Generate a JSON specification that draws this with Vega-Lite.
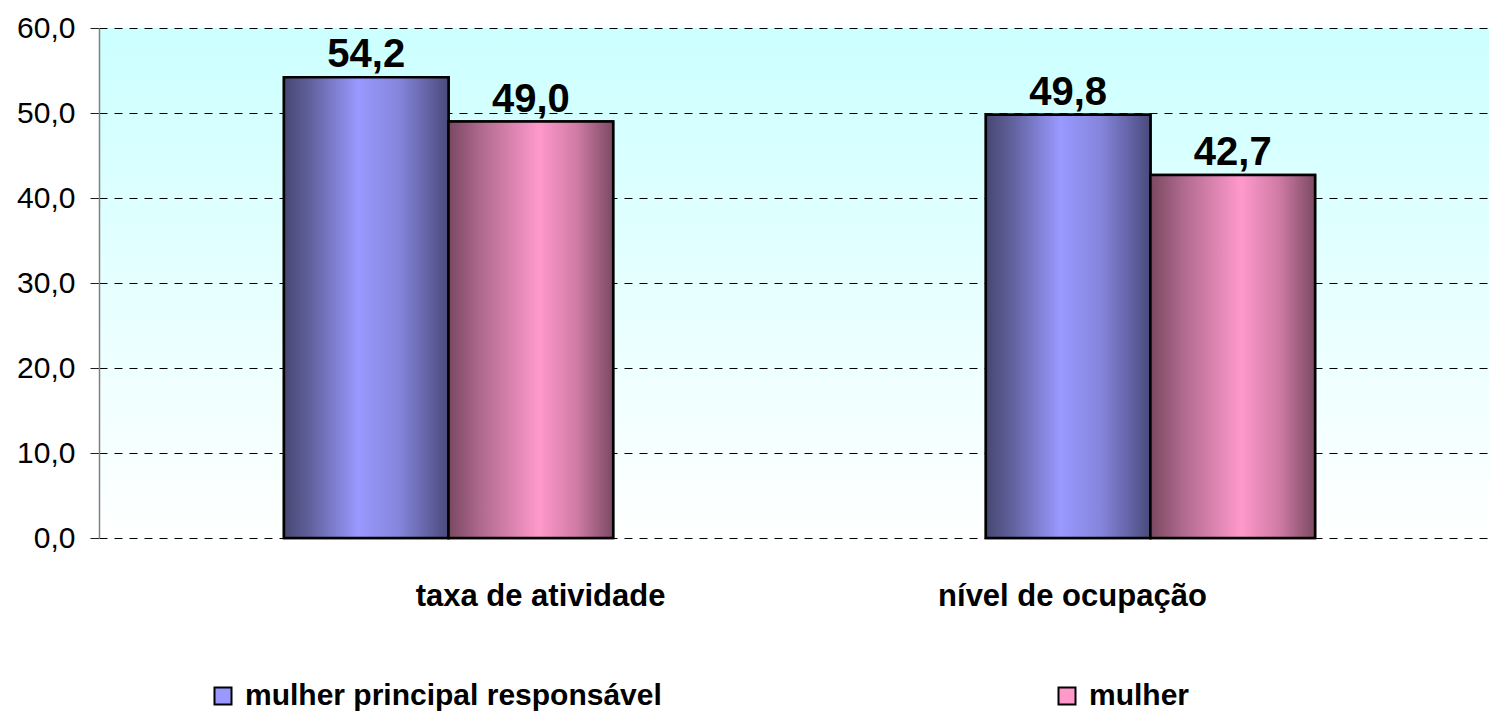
{
  "$schema": "https://vega.github.io/schema/vega-lite/v6.json",
  "width": 1390,
  "height": 510,
  "autosize": "none",
  "padding": {"left": 99, "top": 28, "right": 0, "bottom": 174},
  "background": "#ffffff",
  "config": {
    "locale": {"number": {"decimal": ",", "thousands": ".", "grouping": [3], "currency": ["R$", ""]}},
    "font": "Liberation Sans",
    "view": {"stroke": null}
  },
  "view": {
    "stroke": null,
    "fill": {"gradient": "linear", "x1": 0, "y1": 0, "x2": 0, "y2": 1, "stops": [{"offset": 0, "color": "#ccffff"}, {"offset": 1, "color": "#ffffff"}]}
  },
  "data": {
    "values": [
      {"cat": "taxa de atividade", "serie": "mulher principal responsável", "v": 54.2},
      {"cat": "taxa de atividade", "serie": "mulher", "v": 49.0},
      {"cat": "nível de ocupação", "serie": "mulher principal responsável", "v": 49.8},
      {"cat": "nível de ocupação", "serie": "mulher", "v": 42.7}
    ]
  },
  "encoding": {
    "x": {
      "field": "cat", "type": "nominal",
      "scale": {"domain": ["taxa de atividade", "nível de ocupação"], "range": [0, 1401], "paddingInner": 0.531, "paddingOuter": 0.2635},
      "axis": {
        "title": null, "domain": false, "ticks": false, "labelAngle": 0, "labelLimit": 0,
        "labelFont": "Liberation Sans", "labelFontSize": 31, "labelFontWeight": "bold", "labelColor": "#000000",
        "labelPadding": 43,
        "labelOffset": {"condition": {"test": "datum.value == 'taxa de atividade'", "value": 92}, "value": -78}
      }
    },
    "xOffset": {"field": "serie", "type": "nominal", "scale": {"domain": ["mulher principal responsável", "mulher"], "paddingInner": 0, "paddingOuter": 0}},
    "y": {
      "field": "v", "type": "quantitative",
      "scale": {"domain": [0, 60], "nice": false, "zero": true},
      "axis": {
        "title": null, "values": [0, 10, 20, 30, 40, 50, 60], "format": ".1f",
        "labelFont": "Liberation Sans", "labelFontSize": 30, "labelColor": "#000000", "labelPadding": 15,
        "tickSize": 9, "tickColor": "#202020", "tickWidth": 1,
        "domainColor": "#808080", "domainWidth": 1.5,
        "grid": true, "gridColor": "#000000", "gridWidth": 1, "gridDash": [8, 7], "gridOpacity": 1
      }
    }
  },
  "layer": [
    {
      "mark": {"type": "bar", "stroke": "#000000", "strokeWidth": 2.5},
      "encoding": {
        "color": {
          "field": "serie", "type": "nominal",
          "scale": {"domain": ["mulher principal responsável", "mulher"], "range": ["#9999ff", "#ff99cc"]},
          "legend": {
            "title": null, "orient": "none", "legendX": 109, "legendY": 653, "direction": "horizontal",
            "columnPadding": 390, "padding": 0, "symbolType": "square", "symbolSize": 289,
            "symbolStrokeColor": "#000000", "symbolStrokeWidth": 2, "symbolOpacity": 1,
            "labelFont": "Liberation Sans", "labelFontSize": 30, "labelFontWeight": "bold", "labelColor": "#000000",
            "labelOffset": 7, "labelLimit": 0
          }
        }
      }
    },
    {
      "transform": [{"filter": "datum.serie == 'mulher principal responsável'"}],
      "mark": {
        "type": "bar", "stroke": "#000000", "strokeWidth": 2.5,
        "fill": {"gradient": "linear", "x1": 0, "y1": 0, "x2": 1, "y2": 0, "stops": [
          {"offset": 0, "color": "#474772"},
          {"offset": 0.15, "color": "#5f5f9a"},
          {"offset": 0.45, "color": "#9999ff"},
          {"offset": 0.7, "color": "#8585dd"},
          {"offset": 1, "color": "#4a4a7c"}
        ]}
      },
      "encoding": {}
    },
    {
      "transform": [{"filter": "datum.serie == 'mulher'"}],
      "mark": {
        "type": "bar", "stroke": "#000000", "strokeWidth": 2.5,
        "fill": {"gradient": "linear", "x1": 0, "y1": 0, "x2": 1, "y2": 0, "stops": [
          {"offset": 0, "color": "#7a4861"},
          {"offset": 0.2, "color": "#b06a8f"},
          {"offset": 0.55, "color": "#ff99cc"},
          {"offset": 0.78, "color": "#d07ba5"},
          {"offset": 1, "color": "#7b4a63"}
        ]}
      },
      "encoding": {}
    },
    {
      "mark": {"type": "text", "font": "Liberation Sans", "fontSize": 40, "fontWeight": "bold", "color": "#000000", "baseline": "alphabetic", "dy": -10},
      "encoding": {"text": {"field": "v", "type": "quantitative", "format": ".1f"}}
    }
  ]
}
